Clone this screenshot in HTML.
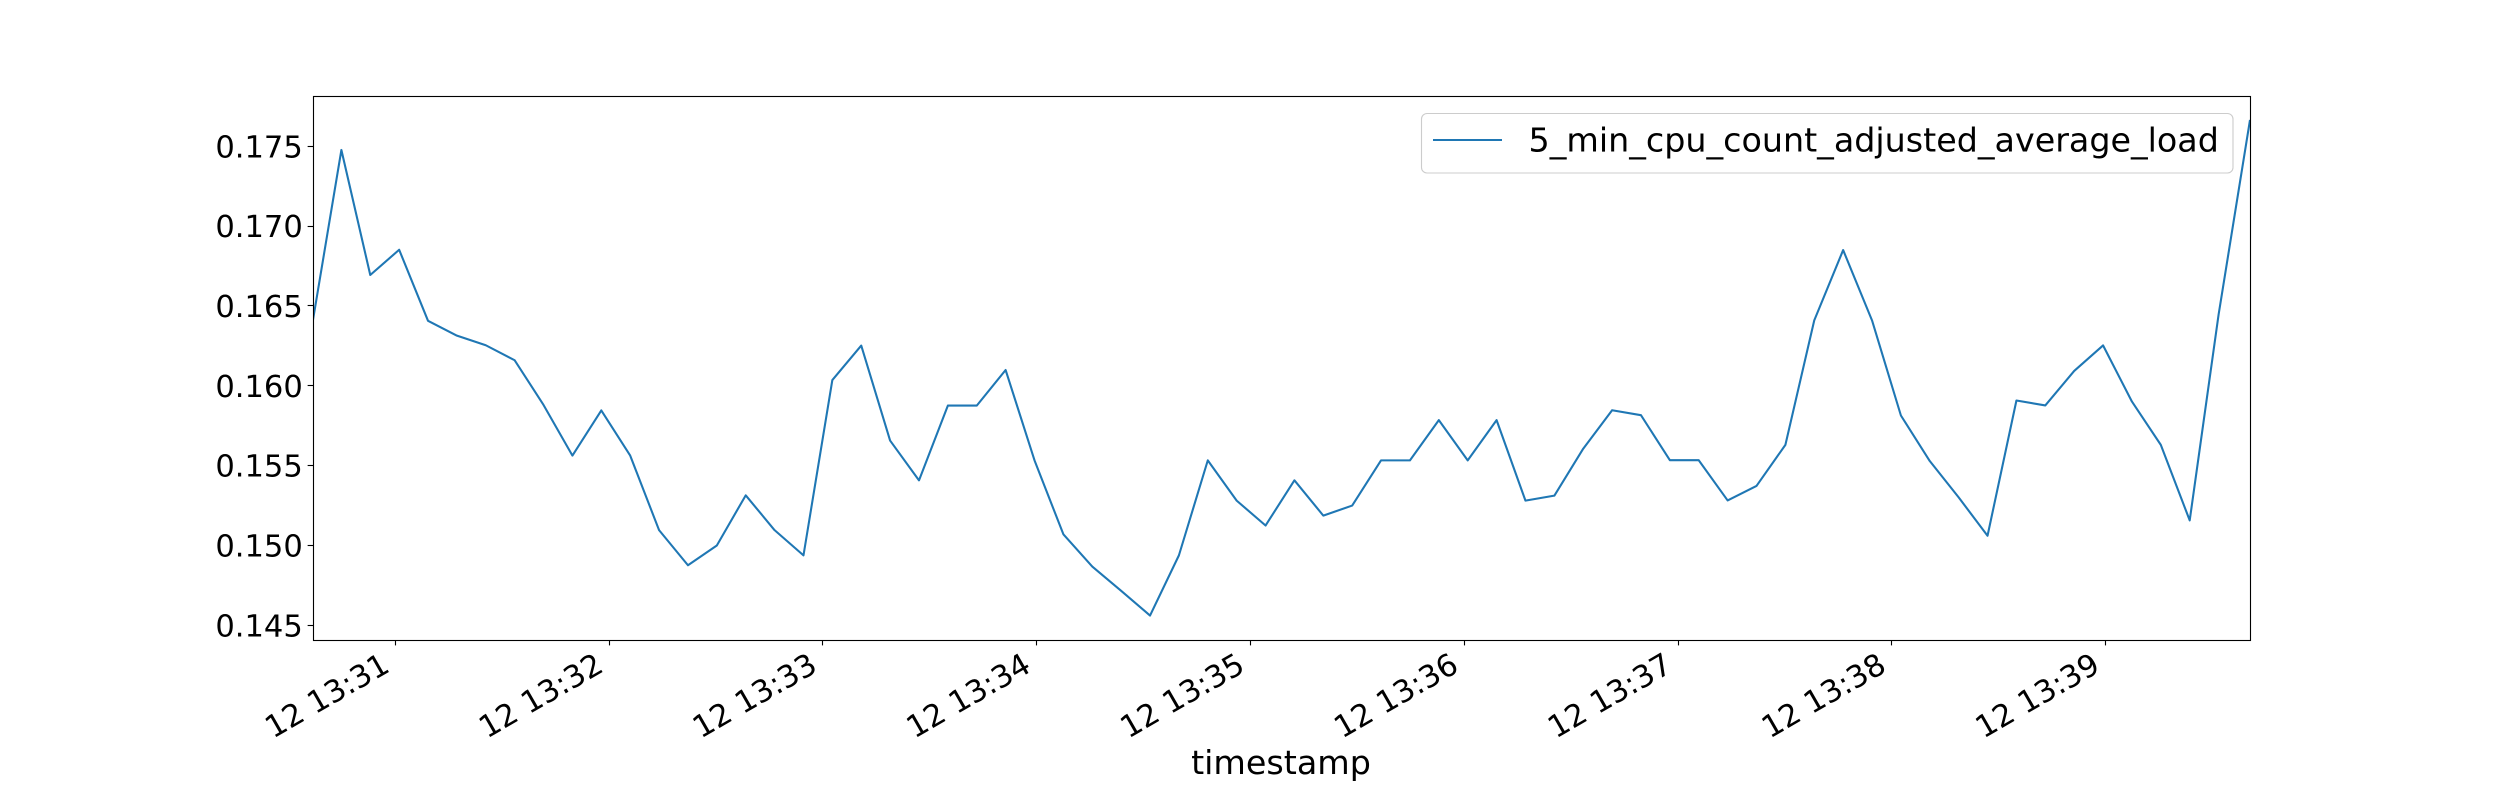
<!DOCTYPE html>
<html lang="en">
<head>
<meta charset="utf-8">
<title>5 min CPU load chart</title>
<style>
  html, body { margin: 0; padding: 0; background: #fff; }
  #chart { display: block; width: 2500px; height: 800px; font-family: "DejaVu Sans", "Liberation Sans", sans-serif; }
  text { fill: #000; font-size: 30.56px; }
  text.large { font-size: 33.33px; }
</style>
</head>
<body>
<svg id="chart" xmlns="http://www.w3.org/2000/svg" width="2500" height="800" viewBox="0 0 2500 800">
  <defs>
    <clipPath id="plot-clip"><rect x="313" y="96" width="1937.5" height="544.5"></rect></clipPath>
  </defs>
  <rect x="0" y="0" width="2500" height="800" fill="#ffffff"></rect>
  <g id="series-layer" clip-path="url(#plot-clip)"></g>
  <g id="x-axis"></g>
  <g id="y-axis"></g>
  <rect x="313.5" y="96.5" width="1937" height="544" fill="none" stroke="#000" stroke-width="1.11"></rect>
  <text class="large" x="1281" y="774" text-anchor="middle">timestamp</text>
  <g>
    <rect x="1421.5" y="113.5" width="811.5" height="59.5" rx="5.5" ry="5.5" fill="#ffffff" fill-opacity="0.8" stroke="#cccccc" stroke-width="1.11"></rect>
    <line x1="1433" y1="140" x2="1502" y2="140" stroke="#1f77b4" stroke-width="2.08"></line>
    <text class="large" x="1528.5" y="151.5">5_min_cpu_count_adjusted_average_load</text>
  </g>
</svg>
<script>
// Seconds elapsed since 13:30:00 for each sample
const timeSeconds = [36.74,44.85,52.95,61.06,69.16,77.27,85.37,93.48,101.58,109.69,117.79,125.90,134.00,142.11,150.21,158.32,166.42,174.53,182.63,190.74,198.84,206.95,215.05,223.16,231.26,239.37,247.47,255.58,263.68,271.79,279.89,288.00,296.10,304.21,312.31,320.42,328.52,336.63,344.73,352.84,360.94,369.05,377.15,385.26,393.36,401.47,409.57,417.68,425.78,433.89,441.99,450.10,458.20,466.31,474.41,482.52,490.62,498.73,506.83,514.94,523.04,531.15,539.25,547.36,555.46,563.57,571.67,580.49];
const loadValues = [0.16394,0.17477,0.16694,0.16852,0.16407,0.16314,0.16254,0.1616,0.1588,0.15563,0.15846,0.15563,0.15096,0.14876,0.15,0.15314,0.15096,0.14938,0.16036,0.16252,0.15657,0.15408,0.15876,0.15876,0.16099,0.15533,0.1507,0.14868,0.14716,0.14561,0.14938,0.15533,0.15281,0.15125,0.15408,0.15187,0.1525,0.15533,0.15533,0.15785,0.15533,0.15785,0.15281,0.15312,0.15606,0.15847,0.15816,0.15534,0.15534,0.15282,0.15373,0.1563,0.1641,0.1685,0.1641,0.15814,0.15529,0.15301,0.15061,0.15908,0.15877,0.16093,0.16253,0.15901,0.1563,0.15157,0.16445,0.17665];
const yTickValues = [0.145,0.150,0.155,0.160,0.165,0.170,0.175];
const yTickLabels = ["0.145","0.150","0.155","0.160","0.165","0.170","0.175"];
const xTickSeconds = [60,120,180,240,300,360,420,480,540];
const xTickLabels = ["12 13:31","12 13:32","12 13:33","12 13:34","12 13:35","12 13:36","12 13:37","12 13:38","12 13:39"];

const SVG_NS = "http://www.w3.org/2000/svg";
const plotLeft = 312.5, plotRight = 2250, plotTop = 96, plotBottom = 640;
const xDomainStart = 36.74, xDomainEnd = 580.49;
const yDomainLow = 0.14408, yDomainHigh = 0.17815;

function xScale(seconds) {
  return plotLeft + (seconds - xDomainStart) / (xDomainEnd - xDomainStart) * (plotRight - plotLeft);
}
function yScale(value) {
  return plotBottom - (value - yDomainLow) / (yDomainHigh - yDomainLow) * (plotBottom - plotTop);
}

const seriesLayer = document.getElementById("series-layer");
const xAxis = document.getElementById("x-axis");
const yAxis = document.getElementById("y-axis");

const seriesLine = document.createElementNS(SVG_NS, "polyline");


seriesLine.setAttribute("points", loadValues.map((v, i) => xScale(timeSeconds[i]).toFixed(2) + "," + yScale(v).toFixed(2)).join(" "));
seriesLine.setAttribute("fill", "none");
seriesLine.setAttribute("stroke", "#1f77b4");
seriesLine.setAttribute("stroke-width", "2.08");
seriesLine.setAttribute("stroke-linejoin", "round");
seriesLayer.appendChild(seriesLine);

yTickValues.forEach((value, i) => {
  const py = yScale(value);
  const snappedY = Math.floor(py) + 0.5;
  const tick = document.createElementNS(SVG_NS, "line");
  
  
  tick.setAttribute("x1", plotLeft - 4.86);
  tick.setAttribute("x2", plotLeft + 0.5);
  tick.setAttribute("y1", snappedY);
  tick.setAttribute("y2", snappedY);
  tick.setAttribute("stroke", "#000");
  tick.setAttribute("stroke-width", "1.11");
  yAxis.appendChild(tick);
  const label = document.createElementNS(SVG_NS, "text");
  
  
  label.setAttribute("x", plotLeft - 9.7);
  label.setAttribute("y", py + 11);
  label.setAttribute("text-anchor", "end");
  label.textContent = yTickLabels[i];
  yAxis.appendChild(label);
});

xTickSeconds.forEach((seconds, i) => {
  const px = xScale(seconds);
  const snappedX = Math.floor(px) + 0.5;
  const tick = document.createElementNS(SVG_NS, "line");
  
  
  tick.setAttribute("x1", snappedX);
  tick.setAttribute("x2", snappedX);
  tick.setAttribute("y1", plotBottom + 0.5);
  tick.setAttribute("y2", plotBottom + 5.4);
  tick.setAttribute("stroke", "#000");
  tick.setAttribute("stroke-width", "1.11");
  xAxis.appendChild(tick);
  const label = document.createElementNS(SVG_NS, "text");
  
  
  const ax = px - 4;
  const ay = plotBottom + 30.5;
  label.setAttribute("x", ax);
  label.setAttribute("y", ay);
  label.setAttribute("text-anchor", "end");
  label.setAttribute("transform", "rotate(-30 " + ax + " " + ay + ")");
  label.textContent = xTickLabels[i];
  xAxis.appendChild(label);
});
</script>
</body>
</html>
